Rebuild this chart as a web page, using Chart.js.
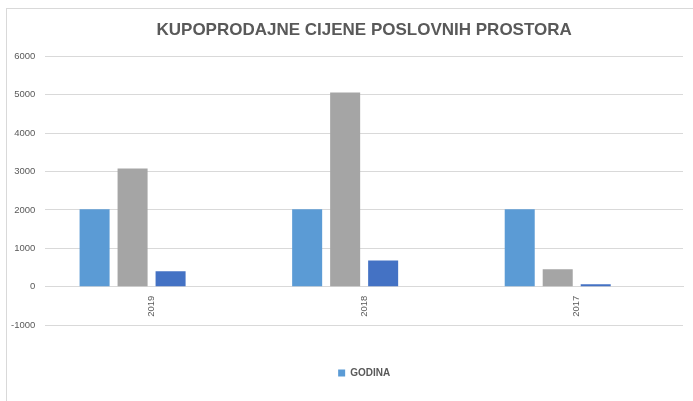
<!DOCTYPE html>
<html>
<head>
<meta charset="utf-8">
<script src="https://cdn.jsdelivr.net/npm/chart.js@4"></script>
<style>
  html, body { margin: 0; padding: 0; background: #fff; overflow: hidden; }
  #frame { position: absolute; left: 6px; top: 8px; width: 720px; height: 420px; border-left: 1px solid #d9d9d9; border-top: 1px solid #d9d9d9; }
  #wrap { position: absolute; left: 0; top: 0; width: 693px; height: 401px; }
</style>
</head>
<body>
<div id="frame"></div>
<div id="wrap"><canvas id="chart" width="693" height="401"></canvas></div>
<script>
const categories = ["2019", "2018", "2017"];
const godina = [2019, 2018, 2017];
const seriesGray = [3080, 5060, 450];
const seriesDark = [400, 680, 60];
const seriesEmpty = [null, null, null];
const yTicks = { min: -1000, max: 6000, step: 1000 };

const C = { light: "#5b9bd5", gray: "#a5a5a5", dark: "#4472c4", gold: "#ffc000", text: "#595959", grid: "#d9d9d9" };

function bar(label, data, color) {
    return { label: label, data: data, backgroundColor: color, borderWidth: 0, categoryPercentage: 0.715, barPercentage: 0.79 };
}

const ctx = document.getElementById("chart").getContext("2d");
new Chart(ctx, {
    type: "bar",
    data: {
        labels: categories,
        datasets: [
            bar("GODINA", godina, C.light),
            bar("Series2", seriesGray, C.gray),
            bar("Series3", seriesDark, C.dark),
            bar("Series4", seriesEmpty, C.gold)
        ]
    },
    options: {
        responsive: false,
        animation: false,
        layout: { padding: { left: 1, right: 10, top: 0, bottom: 13 } },
        plugins: {
            title: {
                display: true,
                fullSize: false,
                text: "KUPOPRODAJNE CIJENE POSLOVNIH PROSTORA",
                color: C.text,
                font: { family: "'Liberation Sans'", size: 17, weight: "bold" },
                padding: { top: 20, bottom: 16 }
            },
            legend: {
                position: "bottom",
                fullSize: false,
                labels: {
                    filter: (item) => item.datasetIndex === 0,
                    boxWidth: 7, boxHeight: 7, padding: 43,
                    color: C.text,
                    font: { family: "'Liberation Sans'", size: 10, weight: "bold" }
                }
            },
            tooltip: { enabled: false }
        },
        scales: {
            x: {
                position: { y: 0 },
                grid: { display: false, drawTicks: false },
                border: { display: true, color: C.grid, width: 1 },
                ticks: { minRotation: 90, maxRotation: 90, padding: 9, color: C.text, font: { family: "'Liberation Sans'", size: 9.5 } }
            },
            y: {
                min: yTicks.min, max: yTicks.max,
                grid: { color: C.grid, drawTicks: false },
                border: { display: false },
                ticks: { stepSize: yTicks.step, padding: 10, color: C.text, font: { family: "'Liberation Sans'", size: 9.5 }, callback: (v) => String(v) }
            }
        }
    }
});
</script>
</body>
</html>
